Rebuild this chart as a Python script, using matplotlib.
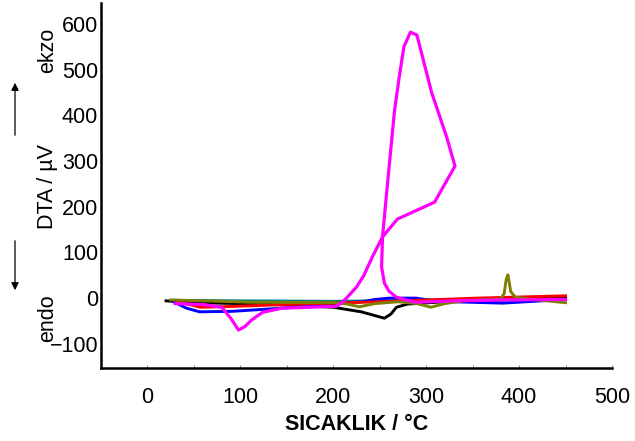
import matplotlib.pyplot as plt
from matplotlib.ticker import MultipleLocator

plt.rcParams['font.family'] = ['Liberation Sans', 'DejaVu Sans']

# DTA curves, temperature (°C) vs signal (µV)
teal_t = [28, 100, 200, 250, 300, 400, 450]
teal_v = [-5, -6, -7, -6, -4, -2, -1]

black_t = [20, 50, 100, 150, 200, 230, 255, 262, 268, 280, 320, 400, 450]
black_v = [-6, -10, -12, -15, -20, -30, -44, -35, -20, -13, -8, -3, 2]

blue_t = [28, 42, 56, 91, 145, 203, 231, 245, 260, 289, 311, 382, 450]
blue_v = [-8, -22, -30, -29, -22, -12, -8, -3, 0, 0, -7, -11, -3]

red_t = [33, 57, 94, 150, 250, 355, 450]
red_v = [-8, -20, -18, -14, -8, 0, 5]

olive_t = [25, 60, 110, 200, 215, 228, 245, 270, 290, 305, 320, 340, 380,
           384, 386, 388, 391, 396, 410, 450]
olive_v = [-4, -6, -9, -10, -13, -19, -12, -8, -12, -20, -12, -6, -2,
           10, 40, 51, 14, 2, -2, -10]

magenta_t = [30, 60, 80, 90, 98, 105, 112, 124, 145, 175, 203, 210, 225, 233,
             242, 253, 269, 309, 331, 322, 306, 290, 283, 276, 271, 266, 258,
             253, 252, 255, 260, 268, 280, 289, 330, 380, 450]
magenta_v = [-12, -14, -20, -45, -70, -62, -48, -31, -22, -20, -18, -9, 24, 50,
             90, 134, 173, 210, 289, 353, 449, 576, 582, 550, 484, 412, 243,
             134, 68, 33, 15, 2, -5, -9, -6, -4, -3]

fig = plt.figure(figsize=(6.35, 4.41), dpi=100)
ax = fig.add_axes([101 / 635, 1 - 368 / 441, 511 / 635, 365 / 441])

ax.plot(teal_t, teal_v, color='#008080', lw=2.1)
ax.plot(black_t, black_v, color='black', lw=2.1)
ax.plot(blue_t, blue_v, color='#0000ff', lw=2.1)
ax.plot(red_t, red_v, color='#ff0000', lw=2.1)
ax.plot(olive_t, olive_v, color='#808000', lw=2.1)
ax.plot(magenta_t, magenta_v, color='#ff00ff', lw=2.3)

ax.set_xlim(-50, 500)
ax.set_ylim(-153, 646)
ax.xaxis.set_minor_locator(MultipleLocator(50))
ax.yaxis.set_major_locator(MultipleLocator(100))
ax.set_xticks(range(0, 501, 100))

for side in ('top', 'right'):
    ax.spines[side].set_visible(False)
for side in ('left', 'bottom'):
    ax.spines[side].set_linewidth(1.8)

ax.tick_params(axis='x', which='both', direction='in', length=2, width=0.6,
               color='#777777', pad=14, labelsize=15.5)
ax.tick_params(axis='y', length=0, pad=2, labelsize=15.5)

ax.set_xlabel('SICAKLIK / °C', fontsize=15.5, fontweight='bold', labelpad=4)

# y-axis caption with exo/endo markers
fig.text(48 / 635, 1 - 187 / 441, 'DTA / µV', rotation=90, fontsize=15.5,
         ha='center', va='center')
fig.text(48 / 635, 1 - 50 / 441, 'ekzo', rotation=90, fontsize=15.5,
         ha='center', va='center')
fig.text(48 / 635, 1 - 318 / 441, 'endo', rotation=90, fontsize=15.5,
         ha='center', va='center')
arrow = dict(arrowstyle='-|>', color='black', lw=0.9, mutation_scale=11)
fig.add_artist(plt.Annotation('', xy=(15 / 635, 1 - 80 / 441),
                              xytext=(15 / 635, 1 - 138 / 441),
                              xycoords='figure fraction', arrowprops=arrow))
fig.add_artist(plt.Annotation('', xy=(15 / 635, 1 - 293 / 441),
                              xytext=(15 / 635, 1 - 238 / 441),
                              xycoords='figure fraction', arrowprops=arrow))

fig.savefig('out.png', dpi=100)
